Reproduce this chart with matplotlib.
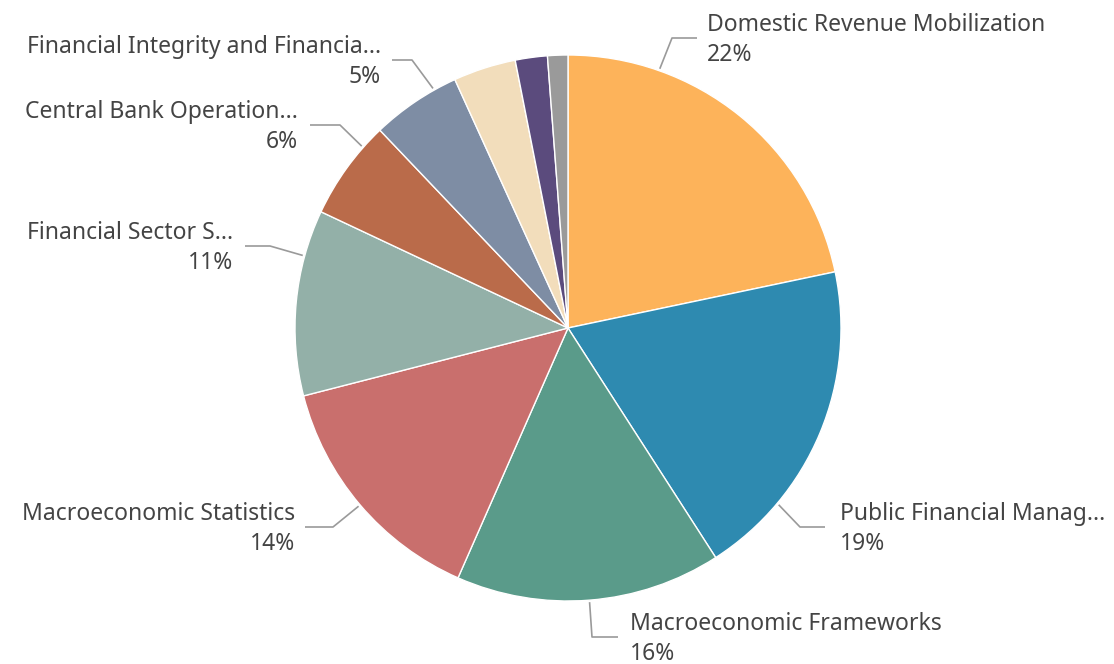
import matplotlib
matplotlib.use('Agg')
import numpy as np
from matplotlib import pyplot as plt

plt.rcParams['font.family'] = ['Noto Sans', 'DejaVu Sans']

# data, clockwise from 12 o'clock
categories = ['Domestic Revenue Mobilization', 'Public Financial Manag...', 'Macroeconomic Frameworks',
              'Macroeconomic Statistics', 'Financial Sector S...', 'Central Bank Operation...',
              'Financial Integrity and Financia...', 'Other A', 'Other B', 'Other C']
shares = [21.7, 19.2, 15.7, 14.4, 11.0, 5.9, 5.3, 3.7, 1.9, 1.2]
pct_labels = ['22%', '19%', '16%', '14%', '11%', '6%', '5%', '', '', '']
colors = ['#FDB35A', '#2E8AB0', '#5A9B8A', '#C96F6D', '#93B0A8', '#BA6B4A',
          '#7E8DA4', '#F2DDBB', '#5B4B7D', '#9A9A9A']

W, H = 1114, 664
fig = plt.figure(figsize=(W / 100, H / 100), dpi=100)
ax = fig.add_axes([0, 0, 1, 1])

cx, cy, R = 568, H - 328, 273
ax.pie(shares, colors=colors, startangle=90, counterclock=False, center=(cx, cy), radius=R,
       wedgeprops=dict(edgecolor='white', linewidth=1.0), frame=True)
ax.set_xlim(0, W)
ax.set_ylim(0, H)
ax.set_aspect('equal')
ax.axis('off')

# label layout: (rim angle from north, elbow xy, line end x, text x, side) in image px
layout = [
    (19.5, (672, 38), 697, 707, 'left'),
    (130.0, (800, 527), 825, 840, 'left'),
    (175.5, (592, 637), 618, 630, 'left'),
    (229.6, (333, 527), 305, 295, 'right'),
    (285.3, (270, 246), 245, 233, 'right'),
    (311.4, (340, 125), 310, 298, 'right'),
    (330.6, (412, 60), 392, 381, 'right'),
]

for i, (ang, elbow, xend, tx, ha) in enumerate(layout):
    a = np.radians(ang)
    x0 = cx + (R + 2) * np.sin(a)
    y0 = cy + (R + 2) * np.cos(a)
    ex, ey = elbow[0], H - elbow[1]
    ax.plot([x0, ex, xend], [y0, ey, ey], color='#9a9a9a', lw=1.2, solid_capstyle='butt')
    ax.text(tx, ey + 13, categories[i], ha=ha, va='center', fontsize=16.5, color='#444444')
    ax.text(tx, ey - 17, pct_labels[i], ha=ha, va='center', fontsize=16.5, color='#444444')

fig.savefig('out.png', dpi=100, facecolor='white')
